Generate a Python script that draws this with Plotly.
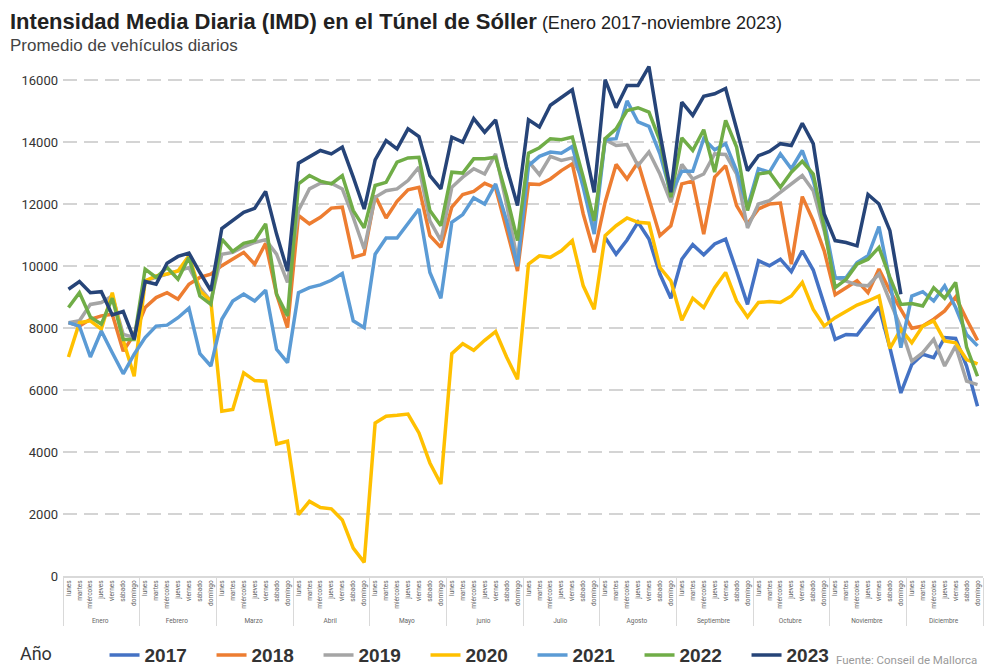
import plotly.graph_objects as go

months = ["Enero", "Febrero", "Marzo", "Abril", "Mayo", "junio", "Julio",
          "Agosto", "Septiembre", "Octubre", "Noviembre", "Diciembre"]
days = ["lunes", "martes", "miércoles", "jueves", "viernes", "sábado", "domingo"]

N = None
y2017 = [N] * 49 + [
    10930, 10390, 10850, 11420, 10880, 9750, 8970,
    10230, 10700, 10370, 10720, 10880, 9850, 8770,
    10180, 10020, 10230, 9830, 10500, 9880, 8770,
    7640, 7800, 7780, 8240, 8690, 7370, 5910,
    6830, 7160, 7050, 7700, 7670, 6780, 5480]
y2018 = [
    8180, 8070, 8290, 8400, 8450, 7260, 7800,
    8670, 8990, 9150, 8940, 9420, 9640, 9750,
    10020, 10230, 10450, 10070, 10740, 9100, 8020,
    11640, 11370, 11580, 11880, 11910, 10290, 10390,
    12280, 11560, 12100, 12470, 12550, 10990, 10610,
    11910, 12320, 12420, 12680, 12530, 11150, 9850,
    12660, 12640, 12820, 13090, 13310, 11690, 10450,
    12070, 13290, 12820, 13360, 12170, 10990, 11310,
    12660, 12750, 11040, 12880, 13250, 11960, 11370,
    11850, 12010, 12040, 10070, 12250, 11470, 10500,
    9080, 9310, 9530, 9150, 9910, 9210, 8610,
    8000, 8070, 8290, 8560, 9010, 8290, 7610]
y2019 = [
    8180, 8240, 8770, 8830, 9040, 7800, 7700,
    9530, 9640, 9750, 9850, 9960, 9310, 8880,
    10390, 10450, 10630, 10770, 10860, 10390, 9480,
    11800, 12500, 12680, 12680, 12500, 11580, 10560,
    12230, 12440, 12500, 12770, 13200, 11470, 10830,
    12550, 12880, 13150, 12980, 13630, 12010, 10180,
    13390, 12960, 13550, 13420, 13500, 12770, 11370,
    14090, 13900, 13930, 13250, 13690, 12980, 12070,
    13290, 12820, 12980, 13630, 13610, 12980, 11240,
    12010, 12120, 12390, 12660, 12930, 12440, 11150,
    9640, 9530, 9400, 9370, 9750, 8880, 8020,
    6940, 7210, 7640, 6780, 7430, 6290, 6180]
y2020 = [
    7070, 8180, 8240, 7970, 9150, 7600, 6450,
    9530, 9690, 9750, 9850, 10340, 9210, 8880,
    5320, 5380, 6560, 6310, 6290, 4260, 4350,
    1980, 2410, 2210, 2170, 1810, 900, 440,
    4940, 5160, 5190, 5230, 4620, 3650, 2970,
    7180, 7500, 7290, 7610, 7890, 7070, 6350,
    10070, 10340, 10290, 10500, 10830, 9370, 8610,
    10990, 11310, 11560, 11420, 11390, 9960, 9530,
    8260, 8970, 8670, 9310, 9800, 8880, 8360,
    8830, 8860, 8830, 9040, 9480, 8610, 8070,
    8340, 8560, 8750, 8880, 9040, 7350, 7970,
    7530, 8070, 8240, 7590, 7530, 6990, 6850]
y2021 = [
    8180, 8070, 7070, 7910, 7210, 6530, 7160,
    7700, 8070, 8100, 8340, 8650, 7180, 6780,
    8290, 8880, 9100, 8880, 9230, 7320, 6890,
    9150, 9310, 9400, 9550, 9770, 8240, 8020,
    10390, 10910, 10910, 11370, 11850, 9800, 8970,
    11420, 11670, 12210, 12010, 12660, 11470, 10000,
    13250, 13550, 13690, 13650, 13870, 12550, 11040,
    14090, 14120, 15340, 14660, 14520, 13630, 12340,
    13070, 13070, 14120, 13760, 13960, 13090, 11910,
    13150, 13040, 13630, 13150, 13740, 12770, 11470,
    9620, 9640, 10120, 10340, 11280, 9530, 7370,
    9040, 9180, 8880, 9370, 8670, 7800, 7430]
y2022 = [
    8670, 9150, 8360, 8130, 8970, 7640, 7640,
    9910, 9640, 9960, 9580, 10290, 9040, 8770,
    10880, 10480, 10740, 10830, 11370, 9100, 8400,
    12660, 12930, 12750, 12660, 12930, 11800, 11240,
    12610, 12710, 13360, 13500, 13520, 11800, 11310,
    13040, 13010, 13470, 13470, 13520, 12280, 10830,
    13650, 13830, 14120, 14090, 14170, 12880, 11470,
    14120, 14440, 15030, 15120, 14980, 14060, 12230,
    14150, 13740, 14410, 13040, 14710, 13850, 11800,
    12980, 13040, 12550, 13040, 13390, 12980, 11260,
    9310, 9580, 10070, 10230, 10610, 9640, 8770,
    8800, 8720, 9310, 8970, 9480, 7390, 6450]
y2023 = [
    9260, 9510, 9150, 9180, 8430, 8540, 7640,
    9510, 9420, 10100, 10320, 10430, 9800, 9210,
    11220, 11470, 11740, 11870, 12420, 11040, 9850,
    13330, 13520, 13740, 13630, 13850, 12880, 11850,
    13440, 14060, 13790, 14440, 14190, 12930, 12500,
    14170, 14010, 14770, 14330, 14730, 13200, 11960,
    14730, 14500, 15200, 15450, 15700, 14060, 12390,
    16030, 15120, 15840, 15840, 16450, 14300, 12390,
    15300, 14870, 15490, 15570, 15740, 14440, 13090,
    13570, 13710, 13960, 13900, 14620, 13960, 11690,
    10830, 10770, 10660, 12320, 12010, 11150, 9100] + [N] * 7

years = ["2017", "2018", "2019", "2020", "2021", "2022", "2023"]
series = [y2017, y2018, y2019, y2020, y2021, y2022, y2023]
colors = ["#4472C4", "#ED7D31", "#A5A5A5", "#FFC000", "#5B9BD5", "#70AD47", "#264478"]

x_month = [m for m in months for _ in days]
x_day = [d for _ in months for d in days]

fig = go.Figure()
for name, vals, col in zip(years, series, colors):
    fig.add_trace(go.Scatter(
        x=[x_month, x_day], y=vals, name=name, mode="lines",
        line=dict(color=col, width=3.5), connectgaps=False,
    ))

# the page adds an 8px body margin, so the figure is 8px smaller on each axis
fig.update_layout(
    width=992, height=658,
    margin=dict(l=55, r=17, t=57, b=90, autoexpand=False),
    paper_bgcolor="white", plot_bgcolor="white",
    font=dict(family="Roboto, Liberation Sans, sans-serif", color="#333"),
    showlegend=True,
    legend=dict(
        orientation="h", x=-0.049, xanchor="left", y=-0.155, yanchor="middle",
        title=dict(text="Año" + "&nbsp;" * 10, font=dict(size=18, color="#333", weight="normal",
                                                       family="Roboto, Liberation Sans, sans-serif"),
                   side="left"),
        font=dict(size=19, color="#333", family="Liberation Sans, Arial, sans-serif", weight="bold"),
        entrywidth=62, entrywidthmode="pixels", itemwidth=30,
        bgcolor="rgba(0,0,0,0)",
    ),
)

fig.update_yaxes(
    range=[0, 16500], tickvals=[0, 2000, 4000, 6000, 8000, 10000, 12000, 14000, 16000],
    ticktext=["0", "2000", "4000", "6000", "8000", "10000", "12000", "14000", "16000"],
    showgrid=True, gridcolor="#d4d4d4", gridwidth=2, griddash="14px,7px",
    zeroline=False, showline=False, ticks="", automargin=False, ticklabelstandoff=4,
    tickfont=dict(size=13, color="#333"),
)
fig.update_xaxes(
    type="multicategory", range=[-0.5, 83.5], showgrid=False, showline=True,
    linecolor="#d9d9d9", linewidth=1.5,
    tickangle=-90, tickfont=dict(size=6.5, color="#666"), ticks="",
    showdividers=True, dividercolor="#d9d9d9", dividerwidth=1,
    automargin=False,
)

fig.add_annotation(
    xref="paper", yref="paper", x=-0.059, y=1.1115, xanchor="left", yanchor="top",
    align="left", borderpad=0,
    text="<span style='font-size:22px;font-weight:bold'>Intensidad Media Diaria (IMD) en el Túnel de Sóller</span>"
         "<span style='font-size:18px'> (Enero 2017-noviembre 2023)</span>"
         "<br><span style='color:#444'>Promedio de vehículos diarios</span>",
    showarrow=False, font=dict(size=17, color="#222", family="Liberation Sans, Arial, sans-serif"),
)
fig.add_annotation(
    xref="paper", yref="paper", x=0.996, y=-0.164, xanchor="right", yanchor="middle",
    text="Fuente: Conseil de Mallorca",
    showarrow=False, font=dict(size=11.5, color="#9a9a9a"),
)

fig.write_html("out.html")
